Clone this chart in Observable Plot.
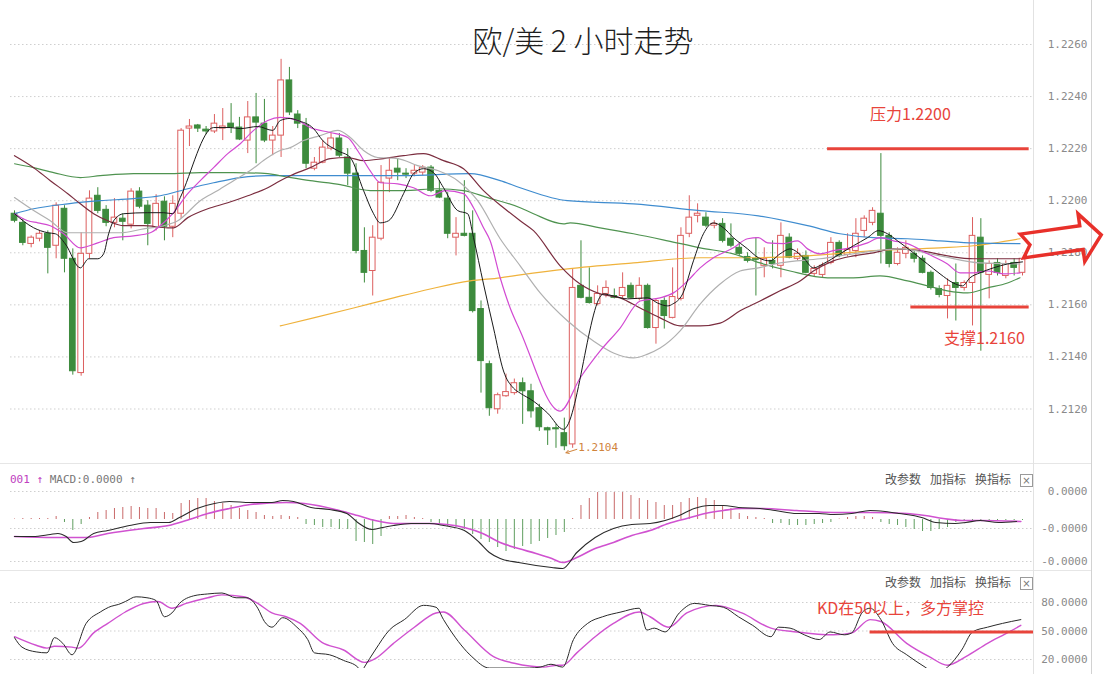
<!DOCTYPE html>
<html><head><meta charset="utf-8">
<script src="https://cdn.jsdelivr.net/npm/d3@7"></script>
<script src="https://cdn.jsdelivr.net/npm/@observablehq/plot@0.6"></script>
<style>
html,body{margin:0;padding:0;background:#fff;}
#wrap{position:relative;width:1115px;height:674px;overflow:hidden;background:#fff;}
.abs{position:absolute;white-space:nowrap;line-height:1;}
.panel{position:absolute;left:0;}
.cn{font-family:"Noto Sans CJK SC","Noto Sans",sans-serif;}
.mono{font-family:"DejaVu Sans Mono","Liberation Mono",monospace;}
.red{color:#e8443b;font-size:16px;}
.tool{font-size:12px;color:#555;}
.tool span{margin-right:9px;}
.box{display:inline-block;width:11px;height:11px;border:1px solid #9a9a9a;font-size:10px;line-height:11px;text-align:center;color:#777;vertical-align:middle;font-family:"DejaVu Sans",sans-serif;}
</style></head><body>
<div id="wrap">
  <div id="main" class="panel" style="top:0"></div>
  <div id="macd" class="panel" style="top:465px"></div>
  <div id="kd" class="panel" style="top:571px"></div>
  <div class="abs" style="left:0;top:463px;width:1091px;height:1px;background:#e6e6e6"></div>
  <div class="abs" style="left:0;top:570px;width:1091px;height:1px;background:#e6e6e6"></div>
  <div class="abs" style="left:1033px;top:0;width:1px;height:674px;background:#e2e2e2"></div>
  <div class="abs" style="left:1091px;top:0;width:1px;height:674px;background:#d2d2d2"></div>
  <div id="title" class="abs cn" style="left:433px;top:24px;width:300px;text-align:center;font-size:30px;color:#1e1e1e;font-weight:300"></div>
  <div id="resLabel" class="abs cn red" style="left:870px;top:105px"></div>
  <div id="supLabel" class="abs cn red" style="left:944px;top:329px"></div>
  <div id="kdLabel" class="abs cn red" style="left:817px;top:599px"></div>
  <div class="abs mono" style="left:10px;top:474px;font-size:11px;color:#777"><span style="color:#c040c0">001 ↑</span> MACD:0.0000 ↑</div>
  <div class="abs cn tool" style="left:885px;top:473px"><span>改参数</span><span>加指标</span><span>换指标</span><i class="box" style="font-style:normal">×</i></div>
  <div class="abs cn tool" style="left:885px;top:576px"><span>改参数</span><span>加指标</span><span>换指标</span><i class="box" style="font-style:normal">×</i></div>
  <svg class="abs" style="left:1000px;top:195px" width="115" height="85"><g transform="translate(22,51) rotate(-8)"><polygon points="0,-12 60,-12 60,-24 80,0 60,24 60,12 0,12 8,0" fill="none" stroke="#e8302a" stroke-width="3.5"/></g></svg>
</div>
<script>
// ---------- text ----------
const titleText = "欧/美 2 小时走势";
const resistanceText = "压力1.2200";
const supportText = "支撑1.2160";
const kdText = "KD在50以上，多方掌控";

// ---------- tick values ----------
const priceTicks = [1.2120,1.2140,1.2160,1.2180,1.2200,1.2220,1.2240,1.2260];
const macdTicks = [28,-9,-42];          // units of 1e-6
const kdTicks = [80,50,20];

// ---------- candles (index 0..121) ----------
const open = [1.21950,1.21915,1.21834,1.21854,1.21873,1.21827,1.21969,1.21777,1.21338,1.21796,
1.22019,1.21965,1.21915,1.21931,1.21908,1.22035,1.21981,1.21896,1.21996,1.21900,
1.21950,1.22277,1.22289,1.22273,1.22266,1.22277,1.22296,1.22281,1.22231,1.22320,
1.22296,1.22231,1.22250,1.22462,1.22331,1.22289,1.22123,1.22146,1.22200,1.22239,
1.22166,1.22104,1.21807,1.21730,1.21854,1.22085,1.22123,1.22104,1.22104,1.22108,
1.22127,1.22038,1.22008,1.21858,1.21873,1.21873,1.21584,1.21372,1.21199,1.21249,
1.21261,1.21299,1.21268,1.21203,1.21126,1.21126,1.21107,1.21064,1.21673,1.21627,
1.21603,1.21642,1.21634,1.21634,1.21673,1.21623,1.21673,1.21511,1.21615,1.21550,
1.21623,1.21873,1.21942,1.21935,1.21904,1.21911,1.21854,1.21819,1.21784,1.21777,
1.21750,1.21769,1.21750,1.21858,1.21777,1.21788,1.21719,1.21715,1.21761,1.21838,
1.21792,1.21807,1.21884,1.21915,1.21950,1.21865,1.21757,1.21796,1.21796,1.21777,
1.21723,1.21661,1.21634,1.21684,1.21665,1.21684,1.21858,1.21715,1.21761,1.21711,
1.21761,1.21723];
const high = [1.21961,1.21931,1.21865,1.21884,1.21884,1.21992,1.21981,1.21815,1.21877,1.22038,
1.22050,1.21981,1.22008,1.21950,1.22046,1.22050,1.22000,1.22023,1.22015,1.22019,
1.22277,1.22312,1.22293,1.22285,1.22331,1.22354,1.22373,1.22320,1.22381,1.22412,
1.22389,1.22285,1.22543,1.22512,1.22346,1.22316,1.22166,1.22231,1.22258,1.22258,
1.22200,1.22142,1.21896,1.21904,1.22135,1.22162,1.22162,1.22123,1.22135,1.22135,
1.22135,1.22077,1.22031,1.21935,1.22077,1.21961,1.21615,1.21384,1.21261,1.21334,
1.21315,1.21319,1.21295,1.21218,1.21130,1.21141,1.21165,1.21738,1.21846,1.21742,
1.21673,1.21692,1.21661,1.21723,1.21684,1.21704,1.21680,1.21623,1.21627,1.21742,
1.21896,1.22019,1.21988,1.21954,1.21923,1.21931,1.21911,1.21838,1.21800,1.21858,
1.21819,1.21846,1.21915,1.21873,1.21815,1.21807,1.21750,1.21761,1.21858,1.21846,
1.21873,1.21931,1.21942,1.21973,1.22181,1.21877,1.21819,1.21846,1.21807,1.21788,
1.21730,1.21673,1.21700,1.21757,1.21692,1.21935,1.21931,1.21769,1.21777,1.21769,
1.21777,1.21777];
const low = [1.21915,1.21827,1.21819,1.21842,1.21719,1.21777,1.21723,1.21330,1.21326,1.21777,
1.21950,1.21900,1.21896,1.21846,1.21892,1.21969,1.21827,1.21884,1.21846,1.21858,
1.21931,1.22208,1.22262,1.22254,1.22258,1.22231,1.22258,1.22231,1.22181,1.22142,
1.22223,1.22173,1.22166,1.22327,1.22277,1.22123,1.22115,1.22142,1.22192,1.22166,
1.22058,1.21796,1.21684,1.21634,1.21846,1.22031,1.22077,1.22085,1.22092,1.22096,
1.22031,1.22008,1.21854,1.21788,1.21861,1.21569,1.21261,1.21172,1.21180,1.21245,
1.21253,1.21141,1.21165,1.21114,1.21060,1.21049,1.21040,1.21049,1.21623,1.21603,
1.21596,1.21627,1.21623,1.21623,1.21623,1.21615,1.21507,1.21449,1.21507,1.21546,
1.21615,1.21858,1.21915,1.21896,1.21892,1.21838,1.21819,1.21788,1.21761,1.21634,
1.21704,1.21738,1.21704,1.21777,1.21769,1.21719,1.21707,1.21704,1.21754,1.21781,
1.21784,1.21781,1.21858,1.21904,1.21757,1.21742,1.21750,1.21777,1.21761,1.21719,
1.21657,1.21627,1.21546,1.21538,1.21653,1.21519,1.21422,1.21623,1.21711,1.21700,
1.21711,1.21711];
const close = [1.21923,1.21838,1.21858,1.21873,1.21819,1.21981,1.21777,1.21345,1.21796,1.22008,
1.21961,1.21915,1.21935,1.21919,1.22035,1.21977,1.21911,1.21988,1.21900,1.21988,
1.22269,1.22285,1.22277,1.22266,1.22296,1.22285,1.22281,1.22235,1.22320,1.22300,
1.22231,1.22250,1.22462,1.22339,1.22296,1.22142,1.22146,1.22204,1.22239,1.22173,
1.22104,1.21807,1.21723,1.21858,1.22069,1.22115,1.22108,1.22100,1.22115,1.22127,
1.22038,1.22012,1.21873,1.21873,1.21865,1.21576,1.21384,1.21203,1.21253,1.21265,
1.21299,1.21268,1.21191,1.21130,1.21118,1.21122,1.21057,1.21665,1.21627,1.21607,
1.21642,1.21665,1.21627,1.21665,1.21627,1.21673,1.21511,1.21615,1.21557,1.21630,
1.21865,1.21935,1.21950,1.21904,1.21911,1.21846,1.21827,1.21796,1.21769,1.21773,
1.21777,1.21757,1.21865,1.21781,1.21796,1.21723,1.21738,1.21750,1.21838,1.21788,
1.21811,1.21873,1.21931,1.21961,1.21865,1.21757,1.21800,1.21819,1.21777,1.21723,
1.21665,1.21638,1.21673,1.21665,1.21684,1.21865,1.21723,1.21757,1.21723,1.21757,
1.21742,1.21777];

// ---------- moving averages [index, price] ----------
const ma5 = [[0,1.21950],[2.3,1.21896],[4.0,1.21877],[4.9,1.21873],[6.1,1.21834],[7.9,1.21742],[8.9,1.21777],[10.0,1.21777],[10.7,1.21796],[11.3,1.21873],[11.9,1.21923],[13.1,1.21950],[16.0,1.21954],[17.9,1.21954],[19.0,1.21950],[19.9,1.22012],[23.9,1.22281],[25.9,1.22281],[27.1,1.22277],[29.2,1.22285],[31.0,1.22270],[31.9,1.22308],[33.1,1.22316],[34.0,1.22308],[35.9,1.22277],[37.0,1.22231],[38.8,1.22192],[40.3,1.22166],[41.9,1.22039],[43.1,1.21950],[43.9,1.21915],[44.9,1.21923],[46.7,1.22027],[47.9,1.22104],[49.1,1.22123],[50.3,1.22108],[51.5,1.22050],[53.2,1.21962],[54.4,1.21950],[55.1,1.21858],[56.3,1.21680],[57.5,1.21511],[58.7,1.21346],[59.9,1.21280],[60.7,1.21261],[62.3,1.21230],[64.0,1.21184],[65.9,1.21122],[70.7,1.21642],[71.9,1.21634],[73.6,1.21623],[76.0,1.21627],[77.2,1.21607],[78.4,1.21596],[79.0,1.21603],[80.2,1.21642],[81.5,1.21769],[82.7,1.21873],[83.9,1.21915],[85.1,1.21896],[86.3,1.21858],[88.0,1.21815],[89.3,1.21781],[90.7,1.21769],[91.9,1.21796],[93.1,1.21815],[94.7,1.21781],[95.9,1.21742],[97.1,1.21758],[99.1,1.21796],[100.7,1.21827],[102.4,1.21858],[103.7,1.21885],[104.8,1.21873],[106.0,1.21846],[107.9,1.21800],[109.6,1.21757],[111.1,1.21719],[112.7,1.21684],[113.8,1.21673],[114.7,1.21704],[115.9,1.21723],[117.5,1.21742],[119.2,1.21757],[121.0,1.21765]];
const ma10 = [[0,1.21950],[1.6,1.21923],[2.8,1.21915],[4.3,1.21904],[5.9,1.21873],[7.9,1.21819],[10.0,1.21838],[11.9,1.21858],[14.3,1.21865],[16.3,1.21877],[17.5,1.21904],[19.1,1.21954],[20.8,1.22027],[22.3,1.22077],[23.9,1.22127],[25.6,1.22181],[27.1,1.22219],[28.7,1.22270],[30.4,1.22308],[31.9,1.22320],[34.0,1.22308],[35.5,1.22281],[37.9,1.22262],[40.0,1.22243],[41.2,1.22192],[42.7,1.22115],[43.9,1.22069],[46.0,1.22065],[47.9,1.22050],[49.9,1.22019],[51.7,1.22039],[53.9,1.22027],[55.1,1.21973],[56.3,1.21896],[57.1,1.21846],[58.3,1.21704],[59.5,1.21588],[60.7,1.21500],[65.5,1.21192],[67.9,1.21319],[70.3,1.21423],[72.7,1.21511],[75.1,1.21615],[77.5,1.21627],[79.1,1.21646],[80.8,1.21692],[82.3,1.21742],[83.9,1.21781],[86.3,1.21819],[88.0,1.21854],[89.3,1.21858],[90.4,1.21838],[92.3,1.21835],[94.0,1.21846],[95.2,1.21815],[96.7,1.21796],[98.3,1.21808],[100.3,1.21819],[102.4,1.21838],[103.9,1.21858],[105.5,1.21846],[107.2,1.21835],[109.6,1.21796],[112.0,1.21757],[113.5,1.21723],[115.1,1.21723],[116.8,1.21730],[118.7,1.21719],[120.7,1.21723]];
const ma20 = [[0,1.22012],[2.3,1.21962],[4.3,1.21923],[6.4,1.21877],[7.9,1.21877],[10.3,1.21877],[12.7,1.21877],[15.5,1.21892],[17.9,1.21904],[19.6,1.21923],[22.3,1.22000],[24.4,1.22039],[26.3,1.22077],[28.3,1.22116],[30.4,1.22166],[31.9,1.22193],[33.1,1.22204],[34.7,1.22231],[36.7,1.22250],[38.8,1.22270],[40.3,1.22243],[41.9,1.22193],[43.6,1.22166],[46.0,1.22162],[48.4,1.22135],[50.8,1.22116],[53.2,1.22077],[55.6,1.22000],[58.3,1.21854],[60.7,1.21750],[63.1,1.21646],[66.4,1.21538],[69.5,1.21461],[71.9,1.21415],[74.3,1.21396],[76.0,1.21411],[77.5,1.21434],[79.9,1.21500],[82.3,1.21603],[84.7,1.21680],[87.1,1.21730],[89.3,1.21742],[91.9,1.21761],[96.7,1.21777],[101.5,1.21800],[106.3,1.21815],[111.1,1.21788],[115.9,1.21761],[120.7,1.21757]];
const ma30 = [[0,1.22173],[2.3,1.22127],[4.3,1.22077],[6.4,1.22027],[7.9,1.21988],[9.5,1.21950],[11.2,1.21923],[13.1,1.21904],[15.5,1.21904],[18.4,1.21896],[19.1,1.21896],[20.8,1.21935],[23.2,1.21969],[25.6,1.21992],[28.0,1.22019],[30.4,1.22050],[31.9,1.22077],[33.1,1.22096],[35.5,1.22127],[37.9,1.22162],[40.0,1.22166],[41.9,1.22154],[44.3,1.22162],[46.7,1.22173],[49.1,1.22181],[51.5,1.22154],[53.9,1.22123],[56.3,1.22039],[58.7,1.21973],[60.7,1.21923],[62.3,1.21885],[65.5,1.21750],[67.9,1.21680],[70.3,1.21642],[72.7,1.21627],[75.1,1.21588],[77.5,1.21550],[79.9,1.21519],[82.3,1.21519],[84.7,1.21530],[87.1,1.21577],[89.5,1.21615],[91.9,1.21654],[94.3,1.21692],[95.9,1.21730],[98.3,1.21769],[100.7,1.21788],[103.1,1.21800],[105.5,1.21815],[108.7,1.21808],[112.0,1.21788],[115.1,1.21777],[118.3,1.21777],[120.7,1.21777]];
const ma60 = [[0,1.22142],[2.3,1.22127],[4.7,1.22108],[7.9,1.22089],[10.3,1.22096],[14.3,1.22104],[18.4,1.22104],[22.3,1.22108],[26.3,1.22108],[30.4,1.22104],[31.9,1.22096],[35.5,1.22077],[39.1,1.22062],[42.7,1.22039],[46.7,1.22039],[50.8,1.22046],[53.9,1.22039],[56.8,1.22012],[60.7,1.21973],[62.3,1.21950],[65.9,1.21911],[66.7,1.21915],[70.3,1.21896],[74.3,1.21873],[78.4,1.21846],[82.3,1.21819],[86.3,1.21796],[89.5,1.21761],[93.1,1.21730],[97.6,1.21704],[100.7,1.21704],[103.9,1.21711],[107.2,1.21692],[109.6,1.21673],[112.0,1.21654],[114.4,1.21646],[116.8,1.21665],[119.2,1.21684],[120.7,1.21704]];
const ma120 = [[0,1.21950],[2.3,1.21969],[6.4,1.21988],[10.3,1.22000],[14.3,1.22008],[17.5,1.22019],[20.8,1.22046],[23.9,1.22069],[27.1,1.22089],[30.4,1.22096],[38.8,1.22096],[46.7,1.22096],[54.7,1.22104],[58.3,1.22077],[60.7,1.22050],[66.4,1.22000],[74.3,1.21988],[82.3,1.21962],[89.3,1.21942],[95.2,1.21904],[99.1,1.21873],[103.1,1.21858],[107.2,1.21854],[111.1,1.21846],[115.1,1.21838],[120.7,1.21835]];
const ma250 = [[31.9,1.21519],[35.9,1.21550],[40.7,1.21588],[45.5,1.21627],[49.9,1.21661],[54.7,1.21692],[58.3,1.21704],[60.7,1.21715],[66.4,1.21738],[74.3,1.21761],[82.3,1.21781],[89.3,1.21781],[95.2,1.21788],[103.1,1.21808],[111.1,1.21819],[115.1,1.21827],[120.7,1.21854]];

// ---------- MACD (units of 1e-6) ----------
const macdHist = [0.5,1,1,1,1,3,-3,-11,-5,2,
7,9,11,12,13,12,11,11,7,6,
16,19,21,21,18,16,14,11,9,7,
4,3,4,3,2,-5,-6,-8,-8,-10,
-10,-22,-23,-25,-17,3,3,4,2,1,
-3,-5,-7,-8,-10,-15,-20,-23,-28,-32,
-30,-27,-25,-22,-19,-16,-13,1,14,21,
27,27,27,27,24,21,19,17,14,14,
17,21,22,21,19,14,11,6,3,2,
1,-4,-4,-6,-6,-6,-5,-4,-3,0.5,
2,3,3,2,-3,-5,-6,-8,-10,-12,
-12,-10,-8,-3,-2,-1,-1,-1,-1,-1,
-1,-1];
const difLine = [[0,-17],[2.2,-17],[4.3,-15],[5.2,-14],[6.2,-17],[7.1,-23],[8,-22],[9.5,-14],[11.2,-11],[13.8,-6],[16.3,-3],[18.5,-3],[19.8,2],[21.9,11],[24,16],[25.8,18],[28.3,17],[30.9,17],[32.2,19],[33.5,18],[35.6,12],[37.8,10],[39.9,6],[41.2,-3],[42.9,-10],[44.2,-8],[45.5,-6],[47.6,-4],[49.8,-4],[51.5,-6],[54,-11],[55.8,-23],[57,-33],[58.3,-39],[60.5,-43],[62.6,-46],[64.5,-48],[65.8,-49],[67.5,-33],[69.7,-18],[71.9,-9],[74.1,-5],[76.3,-4],[78.1,-1],[79.8,4],[81.6,11],[83.4,14],[85.1,14],[86.9,12],[89.5,11],[91.3,9],[93.9,6],[96.6,6],[98.3,5],[100.5,6],[102.7,9],[104.5,8],[106.2,6],[108.9,2],[110.6,-3],[112.9,-4],[114.2,-3],[115.9,-1],[118.1,-3],[120.3,-2]];
const deaLine = [[0,-17],[4.7,-18],[6.9,-18],[8.6,-18],[11.2,-14],[15.5,-9],[18.5,-6],[20.6,-1],[23.2,6],[25.8,11],[28.3,15],[32.6,17],[34.8,16],[39.0,9],[41.2,4],[43.3,-1],[45.5,-4],[49.8,-4],[51.9,-5],[54.0,-8],[56.2,-14],[58.3,-23],[60.5,-29],[62.6,-34],[64.5,-39],[65.8,-43],[67.5,-38],[69.7,-29],[71.9,-23],[74.1,-16],[76.3,-11],[78.5,-4],[80.7,1],[82.9,6],[85.1,9],[87.3,11],[89.5,11],[93.9,9],[98.3,7],[102.7,7],[107.1,6],[109.3,4],[111.5,1],[113.7,-1],[115.9,-1],[120.8,-2]];

// ---------- KD ----------
const kLine = [[0,43],[0.9,33],[2.6,28],[3.9,27],[4.8,43],[5.8,37],[6.9,25],[8.6,58],[10.3,70],[11.6,76],[12.5,78],[13.3,81],[14.6,86],[15.9,85],[17.0,82],[18.0,65],[18.9,69],[19.8,79],[21.5,87],[23.2,89],[24.9,90],[26.6,85],[27.9,85],[29.2,74],[30.0,60],[30.9,54],[32.2,64],[33.9,54],[35.2,41],[36.0,27],[37.8,25],[39.5,19],[41.2,12],[41.6,6],[42.0,12],[43.3,30],[45.0,51],[46.8,62],[49.1,77],[50.6,75],[51.5,62],[52.3,51],[54.9,23],[57.0,11],[58.3,11],[61.8,11],[63.1,12],[64.4,15],[65.8,12],[67.1,41],[68.8,58],[70.6,65],[72.8,70],[75.0,74],[75.9,51],[76.8,53],[78.1,49],[79.8,69],[81.6,79],[83.4,77],[85.1,75],[86.9,65],[88.6,56],[90.8,44],[91.7,54],[93.1,53],[94.8,46],[96.6,41],[97.9,49],[99.6,46],[100.5,48],[101.8,70],[102.7,74],[104.0,62],[105.4,37],[107.1,25],[109.3,12],[110.6,5],[112.0,12],[113.7,30],[115.0,49],[116.8,54],[118.6,58],[120.8,62]];
const dLine = [[0,44],[2.6,35],[3.9,32],[4.8,34],[6.9,33],[7.7,32],[9.5,48],[11.2,58],[13.3,70],[15.5,79],[17.2,81],[18.9,74],[20.6,79],[23.2,85],[24.9,88],[27.5,86],[29.2,79],[30.9,69],[32.6,65],[34.3,58],[36.9,38],[39.5,30],[42.0,17],[43.3,21],[45.5,37],[48.0,54],[50.6,69],[51.5,70],[54.0,51],[57.5,23],[60.0,16],[63.5,12],[65.2,14],[65.8,14],[67.5,27],[69.7,44],[71.9,58],[75.0,70],[76.3,65],[78.5,54],[80.7,69],[84.2,77],[87.3,69],[90.8,53],[93.9,49],[98.3,46],[100.5,48],[102.7,62],[104.0,60],[107.1,37],[109.8,23],[112.0,14],[114.2,23],[116.8,37],[119.4,49],[120.8,56]];

// ---------- annotation levels ----------
const resistanceLine = [{level: 1.2220, from: 97.6, to: 121.8}];
const supportLine = [{level: 1.21592, from: 107.6, to: 121.8}];
const kdMarkLine = [{level: 49, from: 102.7, to: 122.4}];

// =====================================================
document.getElementById("title").textContent = titleText;
document.getElementById("resLabel").textContent = resistanceText;
document.getElementById("supLabel").textContent = supportText;
document.getElementById("kdLabel").textContent = kdText;

const UP = "#dc5f5f", DOWN = "#3d8b3d", RED = "#e8443b";
const candles = open.map((o, i) => ({i, o, h: high[i], l: low[i], c: close[i], up: close[i] >= o}));
const bodyLo = d => { const a = Math.min(d.o, d.c), b = Math.max(d.o, d.c); return b - a < 0.00003 ? (a + b) / 2 - 0.000015 : a; };
const bodyHi = d => { const a = Math.min(d.o, d.c), b = Math.max(d.o, d.c); return b - a < 0.00003 ? (a + b) / 2 + 0.000015 : b; };
const lowPoint = candles.reduce((m, d) => d.l < m.l ? d : m, candles[0]);
const fmt4 = d3.format(".4f");

const xScale = {domain: [0, 121], range: [14, 1022], axis: null};
const baseStyle = {background: "transparent", fontFamily: "DejaVu Sans Mono, Liberation Mono, monospace", fontSize: "11px", color: "#8a8a8a", overflow: "visible"};
const lineOf = (data, stroke, w) => Plot.line(data, {x: d => d[0], y: d => d[1], stroke, strokeWidth: w, curve: "monotone-x"});
const axisRight = (ticks, f) => Plot.axisY(ticks, {anchor: "right", tickSize: 0, tickPadding: 0, textAnchor: "end", dx: 54, tickFormat: f, label: null});
const grid = ticks => Plot.ruleY(ticks, {stroke: "#cfcfcf", strokeDasharray: "1.5,2.5"});

const main = Plot.plot({
  width: 1115, height: 463, marginTop: 0, marginBottom: 0, marginLeft: 10, marginRight: 82,
  style: baseStyle,
  x: xScale,
  y: {domain: [1.212, 1.226], range: [408.5, 44]},
  color: {type: "identity"},
  marks: [
    grid(priceTicks),
    axisRight(priceTicks, fmt4),
    Plot.ruleX(candles, {x: "i", y1: "l", y2: "h", stroke: d => d.up ? UP : DOWN, strokeWidth: 1}),
    Plot.rect(candles, {x1: d => d.i - 0.34, x2: d => d.i + 0.34, y1: bodyLo, y2: bodyHi,
      fill: d => d.up ? "#ffffff" : DOWN, stroke: d => d.up ? UP : DOWN, strokeWidth: 1}),
    lineOf(ma250, "#efb23c", 1.2),
    lineOf(ma120, "#3f8ccf", 1.2),
    lineOf(ma60, "#4f9350", 1.2),
    lineOf(ma30, "#7b2d3f", 1.2),
    lineOf(ma20, "#b0b0b0", 1.2),
    lineOf(ma10, "#d24ad2", 1.2),
    lineOf(ma5, "#1a1a1a", 1),
    Plot.ruleY(resistanceLine, {y: "level", x1: "from", x2: "to", stroke: RED, strokeWidth: 3}),
    Plot.ruleY(supportLine, {y: "level", x1: "from", x2: "to", stroke: RED, strokeWidth: 3}),
    Plot.arrow([lowPoint], {x1: d => d.i + 1.5, y1: d => d.l + 0.00005, x2: d => d.i + 0.2, y2: d => d.l - 0.00008,
      stroke: "#d0843c", strokeWidth: 1, headLength: 5}),
    Plot.text([lowPoint], {x: "i", y: "l", text: d => fmt4(d.l), dx: 14, dy: -3, textAnchor: "start", fill: "#d0843c", fontSize: 11})
  ]
});
document.getElementById("main").appendChild(main);

const histRows = macdHist.map((v, i) => ({i, v}));
const macd = Plot.plot({
  width: 1115, height: 105, marginTop: 0, marginBottom: 0, marginLeft: 10, marginRight: 82,
  style: baseStyle,
  x: xScale,
  y: {domain: [-42, 28], range: [96, 26]},
  color: {type: "identity"},
  marks: [
    grid(macdTicks),
    axisRight(macdTicks, v => (v * 1e-6).toFixed(4)),
    Plot.ruleX(histRows, {x: "i", y1: 0, y2: "v", stroke: d => d.v >= 0 ? "#c96a6a" : "#5f9e5f", strokeWidth: 1}),
    lineOf(deaLine, "#d052d0", 1.6),
    lineOf(difLine, "#2a2a2a", 1.1)
  ]
});
document.getElementById("macd").appendChild(macd);

const kd = Plot.plot({
  width: 1115, height: 103, marginTop: 0, marginBottom: 6, marginLeft: 10, marginRight: 82,
  style: baseStyle,
  x: xScale,
  y: {domain: [20, 80], range: [88, 31]},
  marks: [
    grid(kdTicks),
    axisRight(kdTicks, v => v.toFixed(4)),
    Plot.line(dLine, {x: d => d[0], y: d => d[1], stroke: "#d052d0", strokeWidth: 1.4, curve: "monotone-x", clip: true}),
    Plot.line(kLine, {x: d => d[0], y: d => d[1], stroke: "#2a2a2a", strokeWidth: 1, curve: "monotone-x", clip: true}),
    Plot.ruleY(kdMarkLine, {y: "level", x1: "from", x2: "to", stroke: RED, strokeWidth: 3})
  ]
});
document.getElementById("kd").appendChild(kd);
</script>
</body></html>
